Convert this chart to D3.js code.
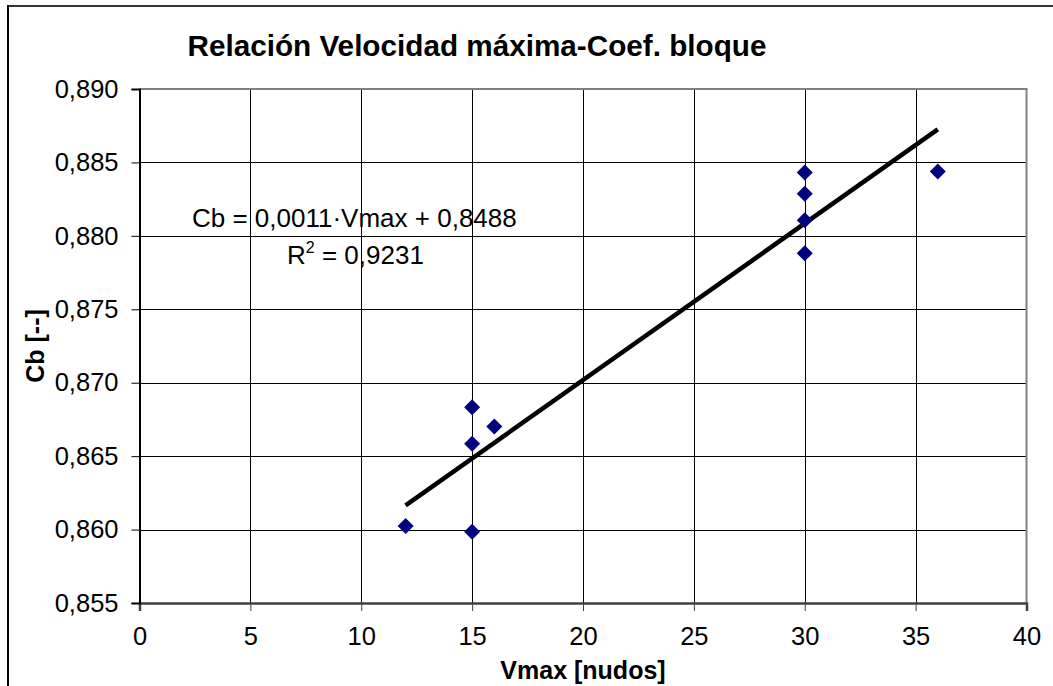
<!DOCTYPE html>
<html><head><meta charset="utf-8">
<script src="https://cdn.jsdelivr.net/npm/d3@7"></script>
<style>
html,body{margin:0;padding:0;background:#fff;}
svg{display:block;}
text{font-family:"Liberation Sans",Arial,sans-serif;fill:#000;}
</style></head>
<body>
<svg id="chart" width="1053" height="686"></svg>
<script>
const vmax = [12, 15, 15, 15, 16, 30, 30, 30, 30, 36];
const cb   = [0.86025, 0.85986, 0.86833, 0.86585, 0.86701, 0.88431, 0.88287, 0.88106, 0.87881, 0.88438];
const xTicks = [0, 5, 10, 15, 20, 25, 30, 35, 40];
const yTicks = [0.855, 0.860, 0.865, 0.870, 0.875, 0.880, 0.885, 0.890];
const title = "Relación Velocidad máxima-Coef. bloque";
const xTitle = "Vmax [nudos]";
const yTitle = "Cb [--]";
const eqText = "Cb = 0,0011·Vmax + 0,8488";
const r2Value = "0,9231";

const svg = d3.select("#chart");
const L = 139.5, R = 1026.5, T = 89, B = 603;
const x = d3.scaleLinear().domain([0, 40]).range([L, R]);
const y = d3.scaleLinear().domain([0.855, 0.890]).range([B, T]);
const fmt = v => d3.format(".3f")(v).replace(".", ",");
const FS = 25.5;

// outer chart border (top & left visible)
svg.append("line").attr("x1", 8).attr("x2", 1053).attr("y1", 6).attr("y2", 6).attr("stroke", "#333").attr("stroke-width", 2);
svg.append("line").attr("x1", 8).attr("x2", 8).attr("y1", 5).attr("y2", 686).attr("stroke", "#000").attr("stroke-width", 2);

// gridlines
const g = svg.append("g");
g.selectAll(".vg").data(xTicks.slice(1, -1)).join("line")
  .attr("x1", d => Math.round(x(d)) + 0.5).attr("x2", d => Math.round(x(d)) + 0.5)
  .attr("y1", T).attr("y2", B).attr("stroke", "#000").attr("stroke-width", 1);
g.selectAll(".hg").data(yTicks.slice(1, -1)).join("line")
  .attr("x1", L).attr("x2", R)
  .attr("y1", d => Math.round(y(d)) + 0.5).attr("y2", d => Math.round(y(d)) + 0.5)
  .attr("stroke", "#000").attr("stroke-width", 1);

// plot border top/right
svg.append("line").attr("x1", L).attr("x2", R + 1).attr("y1", T).attr("y2", T).attr("stroke", "#808080").attr("stroke-width", 2);
svg.append("line").attr("x1", R).attr("x2", R).attr("y1", T).attr("y2", B).attr("stroke", "#808080").attr("stroke-width", 2);

// axes
const xAxis = d3.axisBottom(x).tickValues(xTicks).tickSize(8).tickPadding(16).tickFormat(d3.format("d"));
const gx = svg.append("g").attr("transform", `translate(0,${B})`).call(xAxis);
gx.select(".domain").attr("stroke", "#404040").attr("stroke-width", 2.5);
gx.selectAll(".tick line").attr("stroke", "#404040");
gx.selectAll("text").attr("font-size", FS).attr("font-family", "Liberation Sans, Arial, sans-serif").attr("fill", "#000");

const yAxis = d3.axisLeft(y).tickValues(yTicks).tickSize(8).tickPadding(13).tickFormat(fmt);
const gy = svg.append("g").attr("transform", `translate(${L},0)`).call(yAxis);
gy.select(".domain").attr("stroke", "#000").attr("stroke-width", 2);
gy.selectAll(".tick line").attr("stroke", "#000");
gy.selectAll("text").attr("font-size", FS).attr("font-family", "Liberation Sans, Arial, sans-serif").attr("fill", "#000");

// trendline (least squares)
const mx = d3.mean(vmax), my = d3.mean(cb);
const sxy = d3.sum(vmax.map((v, i) => (v - mx) * (cb[i] - my)));
const sxx = d3.sum(vmax.map(v => (v - mx) ** 2));
const slope = sxy / sxx, icpt = my - slope * mx;
const xr = d3.extent(vmax);
svg.append("line")
  .attr("x1", x(xr[0])).attr("y1", y(icpt + slope * xr[0]))
  .attr("x2", x(xr[1])).attr("y2", y(icpt + slope * xr[1]))
  .attr("stroke", "#000").attr("stroke-width", 4.5);

// points
svg.selectAll(".pt").data(vmax.map((v, i) => [v, cb[i]])).join("path")
  .attr("d", "M0,-8L8,0L0,8L-8,0Z")
  .attr("transform", d => `translate(${x(d[0])},${y(d[1])})`)
  .attr("fill", "#000080");

// equation
svg.append("text").attr("x", 192).attr("y", 227).attr("font-size", 26).text(eqText);
const r2 = svg.append("text").attr("x", 287).attr("y", 264).attr("font-size", 26);
r2.append("tspan").text("R");
r2.append("tspan").attr("dy", -11).attr("font-size", 16).text("2");
r2.append("tspan").attr("dy", 11).text(" = " + r2Value);

// titles
svg.append("text").attr("x", 477).attr("y", 56).attr("text-anchor", "middle")
  .attr("font-size", 29.7).attr("font-weight", "bold").text(title);
svg.append("text").attr("x", (L + R) / 2).attr("y", 679).attr("text-anchor", "middle")
  .attr("font-size", 25).attr("font-weight", "bold").text(xTitle);
svg.append("text").attr("transform", `translate(44,${(T + B) / 2}) rotate(-90)`).attr("text-anchor", "middle")
  .attr("font-size", 25).attr("font-weight", "bold").text(yTitle);
</script>
</body></html>
